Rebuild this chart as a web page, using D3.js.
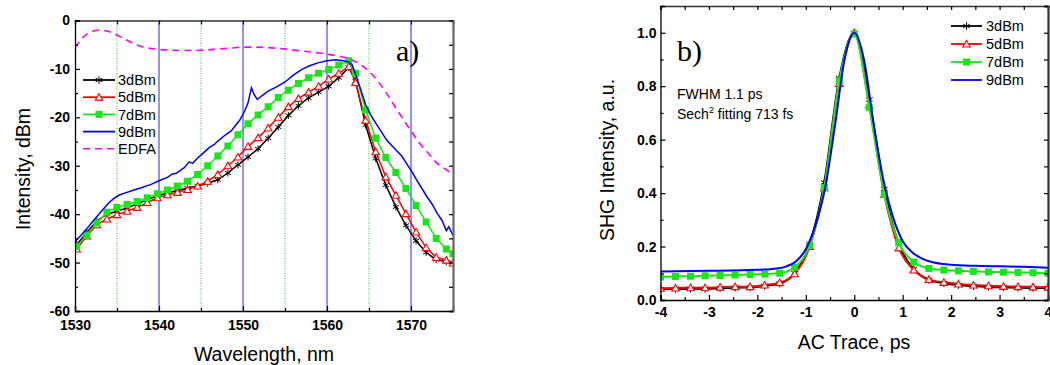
<!DOCTYPE html>
<html lang="en">
<head>
<meta charset="UTF-8">
<title>Spectra and SHG autocorrelation</title>
<script src="https://cdn.jsdelivr.net/npm/d3@7"></script>
<style>
  body { margin: 0; background: #fff; }
  svg text { font-family: "Liberation Sans", Arial, sans-serif; }
</style>
</head>
<body>
<svg id="mainsvg" width="1050" height="365"></svg>
<script>
// ---- data: panel a) spectra ----
const powers = ['3dBm', '5dBm', '7dBm', '9dBm'];
const wavelength = [1530.2, 1531.4, 1532.6, 1533.8, 1535.0, 1536.2, 1537.4, 1538.6, 1539.8, 1541.0,
  1542.2, 1543.4, 1544.6, 1545.8, 1547.0, 1548.2, 1549.4, 1550.6, 1551.8, 1553.0,
  1554.2, 1555.4, 1556.6, 1557.8, 1559.0, 1560.2, 1561.4, 1562.6, 1563.4, 1564.6,
  1565.8, 1567.0, 1568.2, 1569.4, 1570.6, 1571.8, 1573.0, 1574.2, 1575.0];
const spec3 = [-46.3, -43.8, -41.4, -40.0, -39.4, -38.7, -37.9, -37.0, -36.2, -35.6,
  -35.1, -34.6, -34.2, -33.6, -32.9, -31.5, -29.8, -28.2, -26.5, -24.3,
  -22.0, -19.6, -17.6, -16.0, -14.8, -13.6, -11.8, -9.7, -12.5, -21.6,
  -28.5, -34.0, -38.5, -42.3, -45.5, -47.9, -49.4, -49.8, -50.0];
const spec5 = [-47.2, -44.5, -42.2, -41.0, -40.1, -39.4, -38.6, -37.6, -36.6, -36.0,
  -35.5, -34.9, -34.2, -33.2, -31.8, -30.0, -28.2, -26.0, -24.2, -22.2,
  -20.0, -17.8, -16.1, -14.8, -13.6, -12.1, -10.9, -9.5, -12.8, -20.6,
  -27.1, -32.3, -36.1, -39.9, -43.7, -46.9, -48.9, -49.5, -50.1];
const spec7 = [-46.7, -44.3, -41.8, -39.6, -38.6, -38.0, -37.4, -36.6, -35.8, -35.0,
  -34.2, -33.2, -31.8, -30.0, -28.0, -25.9, -23.6, -21.3, -19.5, -17.8,
  -15.9, -14.4, -13.0, -11.8, -10.9, -10.1, -9.2, -8.3, -10.9, -18.5,
  -24.3, -28.3, -31.4, -34.7, -38.2, -41.6, -45.0, -47.2, -48.2];
const wavelength9 = [1530, 1530.8, 1531.6, 1532.4, 1533.2, 1534.0, 1534.6, 1535.2, 1536, 1537,
  1538, 1538.6, 1539, 1540, 1541, 1541.6, 1542, 1543, 1543.6, 1544,
  1544.6, 1545, 1546, 1546.6, 1547, 1548, 1548.6, 1549, 1549.6, 1550.2,
  1550.6, 1551.0, 1551.3, 1551.7, 1552.2, 1553, 1554, 1555, 1556, 1557,
  1558, 1559, 1560, 1561, 1562, 1562.6, 1563.0, 1563.5, 1564, 1564.6,
  1565.2, 1565.8, 1566.4, 1567.1, 1567.7, 1568.3, 1568.9, 1569.5, 1570.1, 1570.7,
  1571.3, 1571.9, 1572.5, 1573.1, 1573.7, 1574.2, 1574.5, 1575];
const spec9 = [-45.7, -44.2, -42.6, -40.9, -39.3, -37.7, -36.8, -36.1, -35.6, -35.0,
  -34.5, -34.1, -33.9, -33.1, -32.4, -31.7, -31.6, -30.4, -29.2, -29.5,
  -28.4, -27.8, -26.2, -25.6, -24.9, -23.5, -22.8, -21.9, -20.6, -18.7,
  -17.0, -13.9, -15.2, -16.3, -15.6, -14.6, -13.7, -12.7, -11.3, -10.1,
  -9.3, -8.7, -8.3, -8.1, -8.3, -8.6, -9.2, -11.6, -14.2, -17.4,
  -19.5, -21.2, -22.8, -24.7, -25.8, -26.9, -28.0, -29.6, -31.2, -33.0,
  -34.7, -36.4, -37.9, -39.8, -41.3, -43.4, -42.6, -44.4];
const edfaNm = [1530, 1531, 1532, 1532.8, 1533.6, 1534.4, 1535.2, 1536, 1537, 1538,
  1539.5, 1541, 1542.5, 1544, 1545.5, 1547, 1548.5, 1550, 1551.5, 1553,
  1554.5, 1556, 1557.5, 1559, 1560.5, 1562, 1563, 1564, 1565, 1566,
  1567, 1568, 1569, 1570, 1571, 1572, 1573, 1574, 1575];
const edfa = [-5.6, -3.4, -2.3, -2.0, -2.1, -2.5, -3.2, -3.9, -4.8, -5.4,
  -5.9, -6.1, -6.2, -6.2, -6.1, -5.9, -5.7, -5.5, -5.5, -5.6,
  -5.8, -6.1, -6.4, -6.7, -7.1, -7.6, -8.2, -9.1, -10.5, -12.4,
  -14.8, -17.5, -20.2, -22.8, -25.3, -27.3, -29.3, -30.6, -31.7];
const nmTicks = [1530, 1540, 1550, 1560, 1570];
const nmMinor = [1535, 1545, 1555, 1565, 1575];
const dbTicks = [-60, -50, -40, -30, -20, -10, 0];
const dbMinor = [-55, -45, -35, -25, -15, -5];
const gridMajor = [1540, 1550, 1560, 1570];
const gridMinor = [1535, 1545, 1555, 1565];

// ---- data: panel b) autocorrelation ----
const delay = [-4, -3.69, -3.38, -3.08, -2.77, -2.46, -2.15, -1.85, -1.54, -1.23, -0.92, -0.62, -0.31, 0,
  0.31, 0.62, 0.92, 1.23, 1.54, 1.85, 2.15, 2.46, 2.77, 3.08, 3.38, 3.69, 4];
const ac3 = [0.040, 0.041, 0.042, 0.042, 0.044, 0.046, 0.047, 0.053, 0.062, 0.100, 0.210, 0.440, 0.830, 1.000,
  0.750, 0.415, 0.210, 0.115, 0.075, 0.063, 0.056, 0.052, 0.049, 0.047, 0.046, 0.045, 0.045];
const ac5 = [0.044, 0.045, 0.046, 0.046, 0.048, 0.050, 0.050, 0.056, 0.065, 0.098, 0.200, 0.420, 0.810, 1.000,
  0.730, 0.395, 0.195, 0.112, 0.077, 0.066, 0.060, 0.056, 0.053, 0.051, 0.050, 0.049, 0.048];
const ac7 = [0.086, 0.088, 0.089, 0.091, 0.092, 0.094, 0.095, 0.097, 0.100, 0.123, 0.205, 0.420, 0.820, 0.995,
  0.720, 0.395, 0.215, 0.142, 0.118, 0.112, 0.109, 0.107, 0.105, 0.104, 0.103, 0.102, 0.100];
const delay9 = [-4, -3, -2, -1.6, -1.4, -1.2, -1.0, -0.8, -0.6, -0.4, -0.2, 0,
  0.2, 0.4, 0.6, 0.8, 1.0, 1.2, 1.4, 1.6, 2.0, 2.5, 3, 3.5, 4];
const ac9 = [0.107, 0.109, 0.113, 0.118, 0.126, 0.145, 0.190, 0.280, 0.420, 0.650, 0.900, 1.000,
  0.900, 0.660, 0.450, 0.310, 0.220, 0.178, 0.155, 0.142, 0.132, 0.128, 0.126, 0.124, 0.121];
const psTicks = [-4, -3, -2, -1, 0, 1, 2, 3, 4];
const psMinor = [-3.5, -2.5, -1.5, -0.5, 0.5, 1.5, 2.5, 3.5];
const auTicks = [0, 0.2, 0.4, 0.6, 0.8, 1.0];
const auMinor = [0.1, 0.3, 0.5, 0.7, 0.9, 1.1];

// ---- layout ----
const svg = d3.select('#mainsvg');
const L = {left: 75, right: 453, top: 20.5, bottom: 311};
const R = {left: 660.5, right: 1048, top: 6, bottom: 300};
const colors = {'3dBm': '#000000', '5dBm': '#ff0000', '7dBm': '#19e619', '9dBm': '#0000ff', 'EDFA': '#ff00ff'};

const xL = d3.scaleLinear().domain([1530, 1575]).range([L.left, L.right]);
const yL = d3.scaleLinear().domain([-60, 0]).range([L.bottom, L.top]);
const xR = d3.scaleLinear().domain([-4, 4]).range([R.left, R.right]);
const yR = d3.scaleLinear().domain([0, 1.1]).range([R.bottom, R.top]);

const defs = svg.append('defs');
[['clipL', L], ['clipR', R]].forEach(([id, b]) => {
  defs.append('clipPath').attr('id', id).append('rect')
    .attr('x', b.left).attr('y', b.top - 2)
    .attr('width', b.right - b.left).attr('height', b.bottom - b.top + 2);
});

// marker helpers
function starPath(r) {
  const a = r * 0.87, b = r * 0.5;
  return `M0,${-r}L0,${r}M${-a},${-b}L${a},${b}M${-a},${b}L${a},${-b}`;
}
function drawMarkers(g, pts, kind, size) {
  if (kind === 'star') {
    g.selectAll(null).data(pts).join('path')
      .attr('transform', d => `translate(${d[0]},${d[1]})`)
      .attr('d', starPath(size))
      .attr('stroke', '#000').attr('stroke-width', 1).attr('fill', 'none');
  } else if (kind === 'tri') {
    g.selectAll(null).data(pts).join('path')
      .attr('transform', d => `translate(${d[0]},${d[1] + 0.8})`)
      .attr('d', d3.symbol(d3.symbolTriangle, size * size * 0.5)())
      .attr('stroke', '#ff0000').attr('stroke-width', 1.1).attr('fill', '#fff');
  } else if (kind === 'sq') {
    g.selectAll(null).data(pts).join('path')
      .attr('transform', d => `translate(${d[0]},${d[1]})`)
      .attr('d', d3.symbol(d3.symbolSquare, size * size)())
      .attr('fill', colors['7dBm']);
  }
}

// ---- panel a ----
const pa = svg.append('g');
pa.selectAll('line.gmaj').data(gridMajor).join('line')
  .attr('x1', d => xL(d)).attr('x2', d => xL(d))
  .attr('y1', L.top).attr('y2', L.bottom)
  .attr('stroke', '#4b4be6').attr('stroke-width', 1.2);
pa.selectAll('line.gmin').data(gridMinor).join('line')
  .attr('x1', d => xL(d)).attr('x2', d => xL(d))
  .attr('y1', L.top).attr('y2', L.bottom)
  .attr('stroke', '#33cc33').attr('stroke-width', 1).attr('stroke-dasharray', '1,1.5');

const plotA = pa.append('g').attr('clip-path', 'url(#clipL)');
const lineA = d3.line().x(d => xL(d[0])).y(d => yL(d[1]));
const seriesA = [
  {name: '3dBm', xs: wavelength, ys: spec3, marker: 'star'},
  {name: '5dBm', xs: wavelength, ys: spec5, marker: 'tri'},
  {name: '7dBm', xs: wavelength, ys: spec7, marker: 'sq'},
  {name: '9dBm', xs: wavelength9, ys: spec9, marker: null}
];
seriesA.forEach(s => {
  const pts = s.xs.map((x, i) => [x, s.ys[i]]);
  plotA.append('path').datum(pts).attr('d', lineA)
    .attr('fill', 'none').attr('stroke', colors[s.name]).attr('stroke-width', 1.5);
  if (s.marker) {
    const mg = plotA.append('g');
    drawMarkers(mg, pts.map(p => [xL(p[0]), yL(p[1])]), s.marker, s.marker === 'star' ? 3.5 : 7);
  }
});
plotA.append('path').datum(edfaNm.map((x, i) => [x, edfa[i]]))
  .attr('d', lineA.curve(d3.curveMonotoneX))
  .attr('fill', 'none').attr('stroke', colors.EDFA).attr('stroke-width', 1.6)
  .attr('stroke-dasharray', '7,5');

// ---- panel b ----
const pb = svg.append('g');
const plotB = pb.append('g').attr('clip-path', 'url(#clipR)');
const lineB = d3.line().x(d => xR(d[0])).y(d => yR(d[1])).curve(d3.curveMonotoneX);
const seriesB = [
  {name: '3dBm', xs: delay, ys: ac3, marker: 'star'},
  {name: '5dBm', xs: delay, ys: ac5, marker: 'tri'},
  {name: '7dBm', xs: delay, ys: ac7, marker: 'sq'},
  {name: '9dBm', xs: delay9, ys: ac9, marker: null}
];
seriesB.forEach(s => {
  const pts = s.xs.map((x, i) => [x, s.ys[i]]);
  plotB.append('path').datum(pts).attr('d', lineB)
    .attr('fill', 'none').attr('stroke', colors[s.name]).attr('stroke-width', 2);
  if (s.marker) {
    const mg = plotB.append('g');
    drawMarkers(mg, pts.map(p => [xR(p[0]), yR(p[1])]), s.marker, s.marker === 'star' ? 3.8 : 7);
  }
});

// ---- frames and axes ----
function styleAxis(g) {
  g.attr('font-family', null).attr('font-size', null);
  g.selectAll('text').attr('font-size', 14).attr('font-weight', 'bold').attr('fill', '#000');
  g.selectAll('line').attr('stroke', '#000').attr('stroke-width', 1.2);
  g.select('.domain').attr('stroke', '#000').attr('stroke-width', 1.3);
}
function frame(x, y, b, xt, xm, yt, ym, xPad, yPad, yFmt, rightColor) {
  const f = svg.append('g');
  f.append('g').attr('transform', `translate(0,${b.bottom})`)
    .call(d3.axisBottom(x).tickValues(xt).tickSize(-5).tickPadding(xPad).tickFormat(d => String(d)))
    .call(styleAxis);
  f.append('g').attr('transform', `translate(0,${b.bottom})`)
    .call(d3.axisBottom(x).tickValues(xm).tickSize(-3).tickFormat(''))
    .call(styleAxis).call(g => g.select('.domain').remove());
  f.append('g').attr('transform', `translate(0,${b.top})`)
    .call(d3.axisTop(x).tickValues(xt.concat(xm)).tickSize(-4).tickFormat(''))
    .call(styleAxis).call(g => g.select('.domain').attr('stroke', '#333'));
  f.append('g').attr('transform', `translate(${b.left},0)`)
    .call(d3.axisLeft(y).tickValues(yt).tickSize(-5).tickPadding(yPad).tickFormat(yFmt))
    .call(styleAxis);
  f.append('g').attr('transform', `translate(${b.left},0)`)
    .call(d3.axisLeft(y).tickValues(ym).tickSize(-3).tickFormat(''))
    .call(styleAxis).call(g => g.select('.domain').remove());
  f.append('g').attr('transform', `translate(${b.right},0)`)
    .call(d3.axisRight(y).tickValues(yt.concat(ym)).tickSize(-4).tickFormat(''))
    .call(styleAxis)
    .call(g => g.select('.domain').attr('stroke', rightColor).attr('stroke-width', 2.2));
}
frame(xL, yL, L, nmTicks, nmMinor, dbTicks, dbMinor, 9, 5, d => String(d), '#666');
frame(xR, yR, R, psTicks, psMinor, auTicks, auMinor, 7, 4, d3.format('.1f'), '#333');

// ---- axis titles ----
svg.append('text').attr('x', 264).attr('y', 361).attr('text-anchor', 'middle')
  .attr('font-size', 19.5).text('Wavelength, nm');
svg.append('text').attr('transform', 'translate(30,169) rotate(-90)').attr('text-anchor', 'middle')
  .attr('font-size', 19.5).text('Intensity, dBm');
svg.append('text').attr('x', 854).attr('y', 349).attr('text-anchor', 'middle')
  .attr('font-size', 19.5).text('AC Trace, ps');
svg.append('text').attr('transform', 'translate(614,160) rotate(-90)').attr('text-anchor', 'middle')
  .attr('font-size', 19.5).text('SHG Intensity, a.u.');

// panel labels
svg.append('text').attr('x', 396).attr('y', 61).attr('font-size', 30)
  .style('font-family', '"Liberation Serif", "Times New Roman", serif').text('a)');
svg.append('text').attr('x', 677).attr('y', 61).attr('font-size', 30)
  .style('font-family', '"Liberation Serif", "Times New Roman", serif').text('b)');

// annotation
svg.append('text').attr('x', 677).attr('y', 99).attr('font-size', 14).text('FWHM 1.1 ps');
const note = svg.append('text').attr('x', 677).attr('y', 119).attr('font-size', 14);
note.append('tspan').text('Sech');
note.append('tspan').attr('dy', -6).attr('font-size', 9).text('2');
note.append('tspan').attr('dy', 6).text(' fitting 713 fs');

// ---- legends ----
function legend(items, x0, x1, tx, y0, dy, markerSize) {
  const g = svg.append('g');
  items.forEach((name, i) => {
    const y = y0 + i * dy;
    const row = g.append('g');
    row.append('line').attr('x1', x0).attr('x2', x1).attr('y1', y).attr('y2', y)
      .attr('stroke', colors[name]).attr('stroke-width', name === 'EDFA' ? 1.6 : 1.8)
      .attr('stroke-dasharray', name === 'EDFA' ? '7,5' : null);
    const kind = {'3dBm': 'star', '5dBm': 'tri', '7dBm': 'sq'}[name];
    if (kind) drawMarkers(row, [[(x0 + x1) / 2, y]], kind, kind === 'star' ? 3.8 : markerSize);
    row.append('text').attr('x', tx).attr('y', y).attr('dy', '0.36em')
      .attr('font-size', 14.5).text(name);
  });
}
legend(powers.concat(['EDFA']), 83, 115, 118, 80, 17.2, 7);
legend(powers, 951, 982, 986, 26, 18, 7);
</script>
</body>
</html>
